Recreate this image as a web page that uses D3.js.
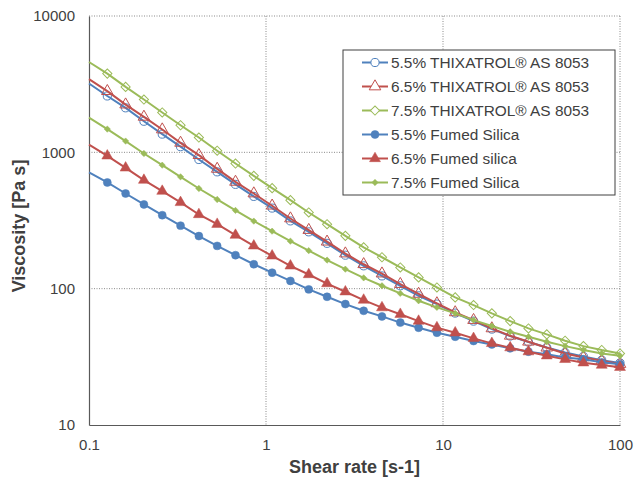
<!DOCTYPE html>
<html>
<head>
  <meta charset="utf-8">
  <script src="https://d3js.org/d3.v7.min.js"></script>
  <style>
    body { margin: 0; background: #fff; }
    text { font-family: "Liberation Sans", Arial, sans-serif; fill: #404040; }
  </style>
</head>
<body>
  <div id="chart"></div>
  <script>

    // shear rates (s-1), same for every series
    var shearRate = [0.1, 0.1269, 0.1610, 0.2043, 0.2593, 0.3290, 0.4176, 0.5299, 0.6724, 0.8533,
      1.083, 1.374, 1.744, 2.213, 2.808, 3.563, 4.521, 5.738, 7.281, 9.239,
      11.72, 14.88, 18.88, 23.96, 30.40, 38.58, 48.96, 62.13, 78.84, 100]

    // viscosity (Pa s)
    var thix55 = [3200, 2590, 2120, 1690, 1360, 1100, 886, 719, 582, 475, 390, 314, 261, 215, 176,
      147, 124, 105, 88.7, 77.1, 66.2, 57.8, 50.5, 44.9, 40.6, 37.0, 34.0, 31.8, 29.9, 28.5]
    var thix65 = [3440, 2810, 2240, 1820, 1470, 1173, 953, 756, 607, 499, 406, 327, 269, 221, 181,
      151, 129, 108, 91.5, 78.0, 67.0, 58.8, 51.1, 45.1, 40.8, 36.9, 33.5, 31.3, 29.6, 28.0]
    var thix75 = [4600, 3780, 3020, 2440, 1960, 1580, 1284, 1028, 828, 672, 546, 446, 362, 297, 244,
      201, 170, 143, 121, 102, 86.3, 75.8, 65.9, 57.8, 51.1, 46.2, 41.5, 37.9, 35.5, 33.5]
    var fumed55 = [712, 601, 499, 415, 346, 290, 243, 206, 176, 151, 131, 114, 98.8, 87.2, 77.1,
      68.8, 62.6, 56.4, 51.7, 47.5, 44.4, 41.3, 39.0, 36.5, 34.5, 33.0, 31.3, 30.3, 28.8, 27.9]
    var fumed65 = [1140, 942, 769, 625, 519, 429, 350, 297, 247, 206, 174, 147, 127, 109, 94.9,
      82.5, 72.6, 64.9, 57.8, 51.8, 47.5, 43.2, 39.7, 36.9, 34.5, 32.2, 30.3, 28.6, 27.5, 26.5]
    var fumed75 = [1800, 1480, 1210, 981, 805, 661, 543, 451, 375, 313, 264, 223, 190, 162, 139,
      120, 105, 92.3, 81.5, 72.9, 65.9, 58.8, 53.2, 48.3, 44.4, 40.8, 37.9, 35.5, 33.5, 32.2]

    var seriesNames = ["5.5% THIXATROL® AS 8053", "6.5% THIXATROL® AS 8053", "7.5% THIXATROL® AS 8053",
      "5.5% Fumed Silica", "6.5% Fumed silica", "7.5% Fumed Silica"]
    var seriesValues = [thix55, thix65, thix75, fumed55, fumed65, fumed75]

    var xTicks = [0.1, 1, 10, 100]
    var yTicks = [10, 100, 1000, 10000]

    // marker style per series (diamonds = squares turned 45 deg)
    var colors = ["#4F81BD", "#C0504D", "#9BBB59", "#4F81BD", "#C0504D", "#9BBB59"]
    var shapes = [d3.symbolCircle, d3.symbolTriangle, d3.symbolSquare,
      d3.symbolCircle, d3.symbolTriangle, d3.symbolSquare]
    var sizes = [52, 58, 42, 50, 52, 20]
    var rotate = [0, 0, 45, 0, 0, 45]
    var filled = [false, false, false, true, true, true]

    var margin = {top: 16, right: 14, bottom: 55, left: 89},
    width = 634 - margin.left - margin.right,
    height = 480 - margin.top - margin.bottom;

    var svg = d3.select("#chart")
      .append("svg")
      .attr("width", 634)
      .attr("height", 480)

    var g = svg.append("g")
      .attr("transform", "translate(" + margin.left + "," + margin.top + ")");

    var x = d3.scaleLog().domain([0.1, 100]).range([0, width])
    var y = d3.scaleLog().domain([10, 10000]).range([height, 0])

    // dotted grid
    g.selectAll(".gx")
      .data(xTicks.slice(1))
      .enter().append("line")
      .attr("x1", function(d) { return x(d) })
      .attr("x2", function(d) { return x(d) })
      .attr("y1", 0).attr("y2", height)
      .attr("stroke", "#8a8a8a")
      .attr("stroke-dasharray", "1,1.5")

    g.selectAll(".gy")
      .data(yTicks.slice(1))
      .enter().append("line")
      .attr("y1", function(d) { return y(d) })
      .attr("y2", function(d) { return y(d) })
      .attr("x1", 0).attr("x2", width)
      .attr("stroke", "#8a8a8a")
      .attr("stroke-dasharray", "1,1.5")

    // axes
    var xAxis = g.append("g")
      .attr("transform", "translate(0," + height + ")")
      .call(d3.axisBottom(x).tickValues(xTicks).tickFormat(d3.format("~g")).tickSize(0).tickPadding(14))
    var yAxis = g.append("g")
      .call(d3.axisLeft(y).tickValues(yTicks).tickFormat(d3.format("d")).tickSize(0).tickPadding(14))

    xAxis.select(".domain").attr("stroke", "#595959").attr("stroke-width", 1.2)
    yAxis.select(".domain").attr("stroke", "#595959").attr("stroke-width", 1.2)
    xAxis.selectAll("text").attr("font-size", "15px").attr("fill", "#404040")
      .attr("font-family", "Liberation Sans, Arial, sans-serif")
    yAxis.selectAll("text").attr("font-size", "15px").attr("fill", "#404040")
      .attr("font-family", "Liberation Sans, Arial, sans-serif")

    // series
    var line = d3.line()
      .x(function(d, i) { return x(shearRate[i]) })
      .y(function(d) { return y(d) })

    seriesValues.forEach(function(vals, s) {
      g.append("path")
        .datum(vals)
        .attr("d", line)
        .attr("fill", "none")
        .attr("stroke", colors[s])
        .attr("stroke-width", 2)

      // first point sits on the axis without marker
      g.selectAll(".m" + s)
        .data(vals.slice(1))
        .enter().append("path")
        .attr("transform", function(d, i) {
          return "translate(" + x(shearRate[i + 1]) + "," + y(d) + ") rotate(" + rotate[s] + ")" })
        .attr("d", d3.symbol().type(shapes[s]).size(sizes[s]))
        .attr("fill", filled[s] ? colors[s] : "none")
        .attr("stroke", colors[s])
        .attr("stroke-width", filled[s] ? 0.5 : 1)
    })

    // axis titles
    svg.append("text")
      .attr("x", margin.left + width / 2)
      .attr("y", 473)
      .attr("text-anchor", "middle")
      .attr("font-size", "18px")
      .attr("font-weight", "bold")
      .text("Shear rate [s-1]")

    svg.append("text")
      .attr("transform", "translate(25,226) rotate(-90)")
      .attr("text-anchor", "middle")
      .attr("font-size", "18px")
      .attr("font-weight", "bold")
      .text("Viscosity [Pa s]")

    // legend
    var legend = svg.append("g").attr("transform", "translate(343,50)")
    legend.append("rect")
      .attr("width", 272).attr("height", 145)
      .attr("fill", "#fff")
      .attr("stroke", "#404040")
      .attr("stroke-width", 1)

    seriesNames.forEach(function(name, s) {
      var ly = 12.5 + s * 24
      legend.append("line")
        .attr("x1", 19).attr("x2", 45)
        .attr("y1", ly).attr("y2", ly)
        .attr("stroke", colors[s]).attr("stroke-width", 2)
      legend.append("path")
        .attr("transform", "translate(32," + ly + ") rotate(" + rotate[s] + ")")
        .attr("d", d3.symbol().type(shapes[s]).size(sizes[s]))
        .attr("fill", filled[s] ? colors[s] : "#fff")
        .attr("stroke", colors[s])
        .attr("stroke-width", filled[s] ? 0.5 : 1)
      legend.append("text")
        .attr("x", 48).attr("y", ly + 5.5)
        .attr("font-size", "15.4px")
        .text(name)
    })

  </script>
</body>
</html>
